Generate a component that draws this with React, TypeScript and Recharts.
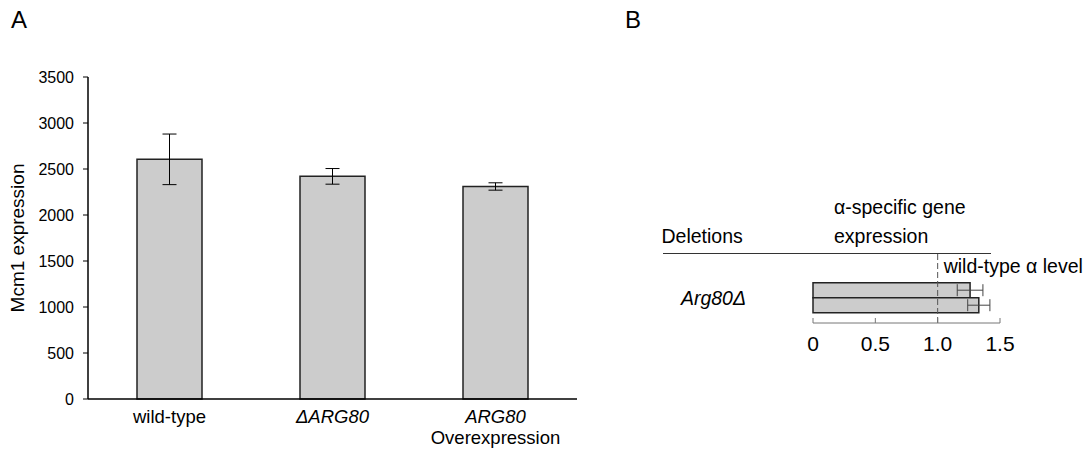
import React from "react";
import { BarChart, Bar, XAxis, YAxis, ErrorBar, ReferenceLine } from "recharts";

const FONT = "'Liberation Sans', Arial, Helvetica, sans-serif";

// Panel A
const strains = ["wild-type", "ΔARG80", "ARG80\nOverexpression"];
const mcm1Expression = [2605, 2420, 2310];
const mcm1Error = [275, 85, 40];
const mcm1Ticks = [0, 500, 1000, 1500, 2000, 2500, 3000, 3500];

// Panel B
const deletions = ["Arg80Δ"];
const alphaRep1 = [1.26];
const alphaRep1Err = [0.103];
const alphaRep2 = [1.33];
const alphaRep2Err = [0.089];
const alphaTicks = [0, 0.5, 1, 1.5];

const panelA = strains.map((s, i) => ({ strain: s, value: mcm1Expression[i], err: mcm1Error[i] }));
const panelB = deletions.map((d, i) => ({
  name: d,
  rep1: alphaRep1[i],
  rep1Err: alphaRep1Err[i],
  rep2: alphaRep2[i],
  rep2Err: alphaRep2Err[i],
}));

const StrainTick = ({ x, y, payload }: any) => {
  const lines = String(payload.value).split("\n");
  return (
    <g>
      {lines.map((line, i) => (
        <text
          key={i}
          x={x}
          y={y + 22 + i * 21}
          textAnchor="middle"
          fontSize={18.5}
          fontFamily={FONT}
          fontStyle={line.includes("ARG80") ? "italic" : "normal"}
          fill="#000"
        >
          {line}
        </text>
      ))}
    </g>
  );
};

export default function App() {
  return (
    <div style={{ position: "absolute", left: 0, top: 0, width: 1086, height: 449, background: "#fff", fontFamily: FONT }}>
      <div style={{ position: "absolute", left: 0, top: 0 }}>
        <BarChart width={600} height={449} data={panelA} margin={{ top: 77, right: 23, bottom: 0, left: 0 }} barCategoryGap={0}>
          <XAxis
            dataKey="strain"
            height={50}
            axisLine={{ stroke: "#000", strokeWidth: 1.5 }}
            tickLine={false}
            tickSize={0}
            tick={<StrainTick />}
            interval={0}
          />
          <YAxis
            width={88}
            domain={[0, 3500]}
            ticks={mcm1Ticks}
            interval={0}
            axisLine={{ stroke: "#000", strokeWidth: 1.5 }}
            tickLine={{ stroke: "#000" }}
            tickSize={5}
            tickMargin={9}
            tick={{ fill: "#000", fontSize: 16, fontFamily: FONT }}
            label={{
              value: "Mcm1 expression",
              angle: -90,
              position: "insideLeft",
              offset: 17,
              fill: "#000",
              fontSize: 19,
              fontFamily: FONT,
              style: { textAnchor: "middle" },
            }}
          />
          <Bar dataKey="value" barSize={65} fill="#cccccc" stroke="#222" strokeWidth={1.5} isAnimationActive={false}>
            <ErrorBar dataKey="err" width={7} stroke="#000" strokeWidth={1} isAnimationActive={false} />
          </Bar>
        </BarChart>
      </div>

      <div style={{ position: "absolute", left: 640, top: 200 }}>
        <BarChart
          width={446}
          height={180}
          data={panelB}
          layout="vertical"
          margin={{ top: 53, right: 86, bottom: 0, left: 0 }}
          barCategoryGap={0}
          barGap={0}
        >
          <XAxis
            type="number"
            domain={[0, 1.5]}
            ticks={alphaTicks}
            interval={0}
            height={57}
            axisLine={{ stroke: "#777" }}
            tickLine={{ stroke: "#777" }}
            tickSize={-5}
            tickMargin={18}
            tickFormatter={(v: number) => (v === 0 ? "0" : v.toFixed(1))}
            tick={{ fill: "#000", fontSize: 21, fontFamily: FONT }}
          />
          <YAxis
            type="category"
            dataKey="name"
            width={173}
            axisLine={false}
            tickLine={false}
            tickSize={0}
            tickMargin={67}
            padding={{ top: 29.7, bottom: 10.3 }}
            tick={{ fill: "#000", fontSize: 19.5, fontFamily: FONT, fontStyle: "italic" }}
          />
          <ReferenceLine
            x={1}
            stroke="#555"
            strokeDasharray="6 3"
            label={{ value: "wild-type α level", position: "insideTopLeft", offset: 6, fill: "#000", fontSize: 19.5, fontFamily: FONT }}
          />
          <Bar dataKey="rep1" fill="#cccccc" stroke="#222" strokeWidth={1.5} isAnimationActive={false}>
            <ErrorBar dataKey="rep1Err" direction="x" width={6} stroke="#444" strokeWidth={1} isAnimationActive={false} />
          </Bar>
          <Bar dataKey="rep2" fill="#cccccc" stroke="#222" strokeWidth={1.5} isAnimationActive={false}>
            <ErrorBar dataKey="rep2Err" direction="x" width={6} stroke="#444" strokeWidth={1} isAnimationActive={false} />
          </Bar>
        </BarChart>
      </div>

      <svg width={1086} height={449} style={{ position: "absolute", left: 0, top: 0, pointerEvents: "none" }}>
        <g fontFamily={FONT} fill="#000">
          <text x={11} y={28} fontSize={24}>A</text>
          <text x={625} y={28} fontSize={24}>B</text>
          <text x={661.5} y={242.5} fontSize={19.5}>Deletions</text>
          <text x={834} y={214} fontSize={19.5}>α-specific gene</text>
          <text x={834} y={242.5} fontSize={19.5}>expression</text>
        </g>
        <line x1={663} x2={991} y1={253.5} y2={253.5} stroke="#333" strokeWidth={1} />
      </svg>
    </div>
  );
}
